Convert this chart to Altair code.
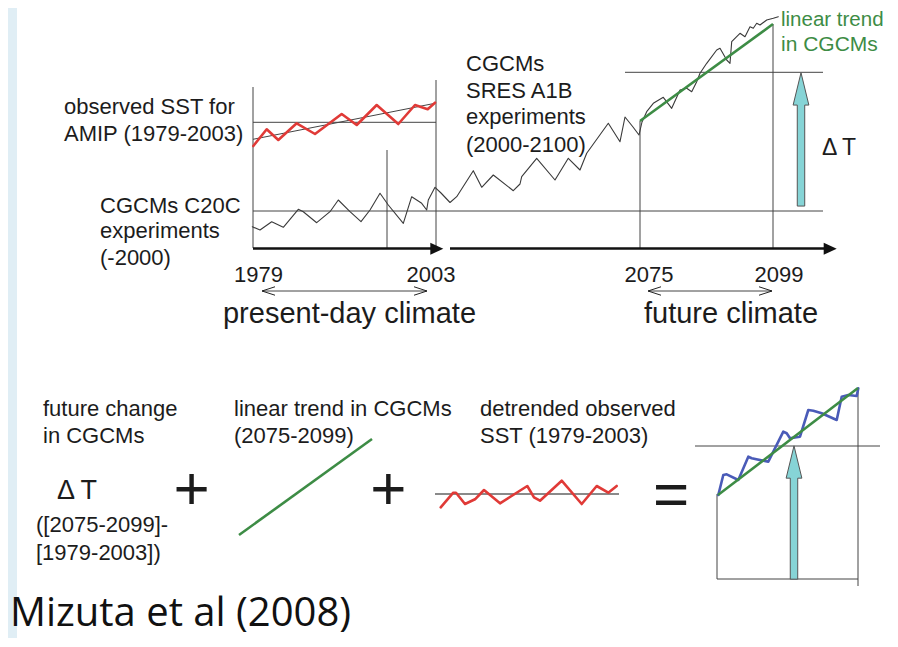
import altair as alt
import pandas as pd

# ---------------- data (diagram coordinates) ----------------
# observed SST for AMIP (1979-2003), red
sst_x = [253.3, 266.7, 278.3, 296.7, 315, 341.7, 356.7, 376.7, 398.3, 415, 427.7, 435]
sst_y = [146, 129.3, 140, 123.3, 134, 114, 125, 105, 124, 105, 109.3, 102.7]

# CGCM C20C + SRES A1B series, black
cgcm_x = [252.3, 260, 271.7, 283.3, 298.3, 303.3, 316.7, 330, 338.3, 350, 361, 370, 380, 388.3,
          403.3, 411.7, 421.7, 426.7, 428.3, 435, 441, 450, 456.7, 473.3, 481.7, 493.3, 513.3,
          520, 521.7, 536.7, 555, 568.3, 580, 586.7, 608.3, 620, 625, 633, 639, 642, 646.7,
          653.3, 663.3, 671.7, 680, 686.7, 691.7, 696.7, 700, 706.7, 716.7, 720, 726.7, 730,
          731.7, 736.7, 740, 745, 750, 753.3, 756.7, 760, 766.7, 773.3, 778.3]
cgcm_y = [226.7, 230, 221.7, 227.3, 209.3, 211.7, 222.7, 211.7, 200, 211.7, 221.7, 210, 193.3, 205,
          223.3, 196.7, 203.3, 210, 200, 187.3, 193, 202.5, 196.7, 170.7, 187.3, 175, 190.7,
          184, 176.7, 158.3, 180, 158.3, 170, 153.3, 123.3, 141.7, 117, 127, 135, 122, 111.7,
          103.3, 97.3, 108.3, 90, 88.3, 91.7, 81.7, 73.3, 63.3, 50, 48.3, 60, 63.3,
          41.7, 36.7, 33.3, 36.7, 26.7, 28.3, 23.3, 25, 20, 18.3, 16.7]

# detrended observed SST, red
detr_x = [440.7, 453.3, 456, 465, 475, 484, 500, 527.3, 534, 540, 561.7, 581.7, 596.7, 608.3, 616.7]
detr_y = [507.3, 492.7, 492.7, 504, 499.3, 490, 503.3, 486, 497.3, 500.7, 480.7, 504, 486, 492.7, 486]

# result series, blue
blue_x = [718.3, 723.3, 726.7, 738.3, 748.3, 751.7, 768.3, 783.3, 786.7, 790, 800, 808.3, 813.3,
          821.7, 836.7, 841.7, 848.3, 856.7, 858.3]
blue_y = [495, 475, 474.3, 480, 456.7, 458.3, 461.7, 431.7, 433.3, 438.3, 436.7, 410, 410.7,
          413.3, 420, 396.7, 395, 396, 388.3]

# thin guide lines: x, y, x2, y2
guide_x1 = [253, 436, 387, 253, 253, 253, 640, 773, 625, 262, 648, 717, 717, 858, 695]
guide_y1 = [87, 80, 150, 122.3, 139.3, 211, 121, 24, 72.3, 291, 291, 494, 579, 388, 446]
guide_x2 = [253, 436, 387, 436, 435, 823, 640, 773, 823, 427, 772, 717, 858, 858, 880]
guide_y2 = [248, 248, 248, 122.3, 103.3, 211, 248, 248, 72.3, 291, 291, 579, 579, 586, 446]

# time axis (thick)
axis_x1 = [253, 450]
axis_x2 = [432, 825]
axis_y = [248.5, 248.5]

# grey zero line under detrended SST
grey_x1, grey_x2, grey_y = [435], [619], [494]

# green linear trends
trend_x1 = [640, 239, 718]
trend_y1 = [121, 535, 495]
trend_x2 = [773, 372, 858]
trend_y2 = [24, 439, 388]

# ---------------- colours / styles ----------------
RED = "#e03a37"
GREEN = "#3d8c45"
BLUE = "#4a5bb8"
CYAN = "#86d4d6"
INK = "#1c1c1c"
LINE = "#444444"
FRAME = "#e0eef5"

W, H = 882, 630
X0, Y0 = 8, 8
XS = alt.Scale(domain=[X0, X0 + W], nice=False, zero=False)
YS = alt.Scale(domain=[Y0, Y0 + H], reverse=True, nice=False, zero=False)


def X(f):
    return alt.X(f, type="quantitative", scale=XS, axis=None)


def Y(f):
    return alt.Y(f, type="quantitative", scale=YS, axis=None)


# background frame strip
frame = alt.Chart(pd.DataFrame({"x": [8], "x2": [17], "y": [8], "y2": [638]})).mark_rect(
    fill=FRAME).encode(x=X("x"), x2="x2", y=Y("y"), y2="y2")

# guides
guides = alt.Chart(pd.DataFrame({"x": guide_x1, "y": guide_y1, "x2": guide_x2, "y2": guide_y2})
                   ).mark_rule(color=LINE, strokeWidth=1).encode(
    x=X("x"), y=Y("y"), x2="x2", y2="y2")

grey = alt.Chart(pd.DataFrame({"x": grey_x1, "x2": grey_x2, "y": grey_y})).mark_rule(
    color="#8a8a8a", strokeWidth=2).encode(x=X("x"), x2="x2", y=Y("y"))

axis_rules = alt.Chart(pd.DataFrame({"x": axis_x1, "x2": axis_x2, "y": axis_y})).mark_rule(
    color="#111111", strokeWidth=2.6).encode(x=X("x"), x2="x2", y=Y("y"))

# series
rows = []
for name, xs_, ys_, col, w in [("cgcm", cgcm_x, cgcm_y, "#3a3a3a", 1.1),
                               ("sst", sst_x, sst_y, RED, 2.6),
                               ("detr", detr_x, detr_y, RED, 2.6),
                               ("blue", blue_x, blue_y, BLUE, 2.6)]:
    for i, (a, b) in enumerate(zip(xs_, ys_)):
        rows.append({"x": a, "y": b, "i": i, "s": name, "c": col, "w": w})
series = alt.Chart(pd.DataFrame(rows)).mark_line(strokeJoin="round", strokeCap="round").encode(
    x=X("x"), y=Y("y"), order="i:Q", detail="s:N",
    color=alt.Color("c:N", scale=None), strokeWidth=alt.StrokeWidth("w:Q", scale=None))

trends = alt.Chart(pd.DataFrame({"x": trend_x1, "y": trend_y1, "x2": trend_x2, "y2": trend_y2})
                   ).mark_rule(color=GREEN, strokeWidth=2.6).encode(
    x=X("x"), y=Y("y"), x2="x2", y2="y2")

# arrow heads of the time axis (filled triangles)
TRI = "M1,0L-1,-0.92L-1,0.92Z"
heads = alt.Chart(pd.DataFrame({"x": [436.8, 830.2], "y": [248.7, 248.7]})).mark_point(
    shape=TRI, filled=True, color="#111111", opacity=1, size=169).encode(x=X("x"), y=Y("y"))

# open chevrons of the period arrows
CHEV_L = "M1,-0.65L-1,0L1,0.65"
CHEV_R = "M-1,-0.65L1,0L-1,0.65"
chev = alt.Chart(pd.DataFrame({"x": [268.5, 420.5, 654.5, 765.5], "y": [291] * 4,
                               "sh": [CHEV_L, CHEV_R, CHEV_L, CHEV_R]})).mark_point(
    filled=False, color="#222222", opacity=1, strokeWidth=1, size=169).encode(
    x=X("x"), y=Y("y"), shape=alt.Shape("sh:N", scale=None))

# cyan Delta-T arrows (tip at top)
ARROW = "M0,-1L0.118,-0.515L0.056,-0.515L0.056,1L-0.056,1L-0.056,-0.515L-0.118,-0.515Z"
cyan = alt.Chart(pd.DataFrame({"x": [801, 794], "y": [139.4, 512.5]})).mark_point(
    shape=ARROW, filled=True, fill=CYAN, stroke="#555555", strokeWidth=1, opacity=1,
    size=17778).encode(x=X("x"), y=Y("y"))

# texts
lt_text = ["observed SST for", "AMIP (1979-2003)", "CGCMs C20C", "experiments", "(-2000)",
           "CGCMs", "SRES A1B", "experiments", "(2000-2100)", "linear trend", "in CGCMs",
           "\u0394\u2009T", "future change", "in CGCMs", "linear trend in CGCMs", "(2075-2099)",
           "detrended observed", "SST (1979-2003)", "([2075-2099]-", "[1979-2003])", "\u0394\u2009T"]
lt_x = [64, 64, 100, 100, 100, 466, 466, 466, 466, 781, 781, 822, 43, 43, 234, 234, 480, 480,
        36, 36, 57]
lt_y = [113.5, 140.5, 212.5, 237.5, 264.5, 71, 97.5, 124, 151.5, 26, 50.5, 155, 416, 443, 416,
        443, 416, 442.5, 531.5, 559.5, 499]
lt_size = [22, 22, 22, 22, 22, 22, 22, 22, 22, 20.5, 21, 23, 22, 22, 22, 22, 22, 22, 22, 22, 27]
lt_col = [INK] * 9 + [GREEN, GREEN] + [INK] * 10

ct_text = ["1979", "2003", "2075", "2099", "present-day climate", "future climate", "+", "+", "="]
ct_x = [258.5, 431, 649, 779, 349.5, 731, 191.7, 388.3, 671]
ct_y = [281.5, 281.5, 281.5, 281.5, 323, 323, 509, 509, 515]
ct_size = [22, 22, 22, 22, 29, 29, 62, 62, 62]

left_text = alt.Chart(pd.DataFrame({"x": lt_x, "y": lt_y, "t": lt_text, "s": lt_size,
                                    "c": lt_col})).mark_text(
    align="left", baseline="alphabetic", font="Liberation Sans").encode(
    x=X("x"), y=Y("y"), text="t:N", size=alt.Size("s:Q", scale=None),
    color=alt.Color("c:N", scale=None))

center_text = alt.Chart(pd.DataFrame({"x": ct_x, "y": ct_y, "t": ct_text, "s": ct_size})
                        ).mark_text(align="center", baseline="alphabetic",
                                    font="Liberation Sans", color=INK).encode(
    x=X("x"), y=Y("y"), text="t:N", size=alt.Size("s:Q", scale=None))

credit = alt.Chart(pd.DataFrame({"x": [10], "y": [626], "t": ["Mizuta et al (2008)"]})).mark_text(
    align="left", baseline="alphabetic", font="Open Sans", fontSize=40, color="#111111").encode(
    x=X("x"), y=Y("y"), text="t:N")

chart = alt.layer(frame, guides, grey, axis_rules, series, trends, heads, chev, cyan,
                  left_text, center_text, credit).properties(
    width=W, height=H, padding=0, autosize=alt.AutoSizeParams(type="none"),
    background="white").configure_view(strokeWidth=0)

chart.save("out.html", embed_options={"renderer": "svg", "actions": False})
